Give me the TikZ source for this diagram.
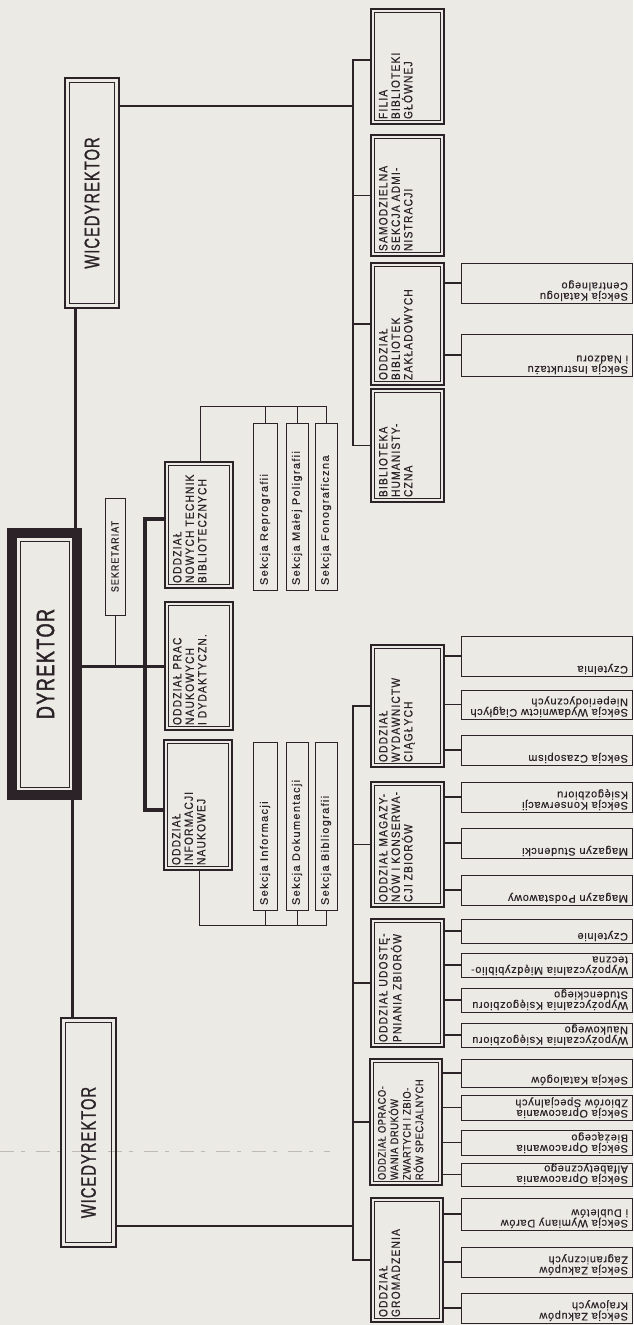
\documentclass[tikz,border=0pt]{standalone}
\usepackage{fontspec}
\setmainfont{Liberation Sans}
\newfontfamily\DeptFont[FakeStretch=0.85,LetterSpace=10,FakeBold=0.5]{Liberation Sans}
\newfontfamily\OprFont[FakeStretch=0.85,LetterSpace=5,FakeBold=0.5]{Liberation Sans}
\newfontfamily\BigFont[FakeStretch=0.72,LetterSpace=6,FakeBold=1.6]{Liberation Sans}
\newfontfamily\ViceFont[FakeStretch=0.7,LetterSpace=5,FakeBold=1]{Liberation Sans}
\newfontfamily\SecFont[LetterSpace=6,FakeBold=0.3]{Liberation Sans}
\newfontfamily\ColFont[LetterSpace=12,FakeBold=0.3]{Liberation Sans}
\definecolor{paper}{RGB}{236,234,229}
\definecolor{ink}{RGB}{43,35,40}
\definecolor{faintc}{RGB}{190,187,183}
\tikzset{
  every node/.style={outer sep=0pt},
  dept/.style={draw=ink, line width=1.5pt},
  innerln/.style={draw=ink, line width=0.6pt},
  depttext/.style={rotate=90, anchor=north west, align=left, inner sep=0pt, text=ink,
    font=\DeptFont\fontsize{12}{12.5}\selectfont},
  secbox/.style={draw=ink, line width=1pt},
  sectext/.style={rotate=180, anchor=north west, align=left, inner sep=0pt, text=ink,
    font=\SecFont\fontsize{11}{10.5}\selectfont},
  coltext/.style={rotate=90, anchor=west, inner sep=0pt, text=ink,
    font=\ColFont\fontsize{11}{12}\selectfont},
  conn/.style={draw=ink, line width=1.1pt},
  mainln/.style={draw=ink, line width=3pt},
  heavy/.style={draw=ink, line width=4pt},
  midln/.style={draw=ink, line width=1.5pt},
  thinc/.style={draw=ink, line width=1pt},
  vice/.style={draw=ink, line width=1.5pt},
  vicetext/.style={rotate=90, inner sep=0pt, text=ink, font=\ViceFont\fontsize{21}{21}\selectfont},
}
% [text options], name, x1, y1, x2, y2, text
\newcommand{\DeptBox}[7][]{%
  \node[dept, minimum width={(#5)-(#3)}, minimum height={(#6)-(#4)}] (#2) at ({((#3)+(#5))/2},{((#4)+(#6))/2}) {};
  \draw[innerln] ([shift={(3.5pt,-3.5pt)}]#2.north west) rectangle ([shift={(-3.5pt,3.5pt)}]#2.south east);
  \node[depttext,#1] (#2-t) at ([xshift=8pt,yshift=5pt]#2.south west) {#7};
}
% name, dept, y1, y2, text
\newcommand{\SecH}[5]{%
  \node[secbox, minimum width=171, minimum height={(#4)-(#3)}] (#1) at (546.5,{((#3)+(#4))/2}) {};
  \node[sectext] (#1-t) at ([xshift=-4pt,yshift=2pt]#1.south east) {#5};
  \draw[conn] (#2.east |- #1.west) -- (#1.west);
}
% name, x1, y1, x2, y2, text
\newcommand{\SecV}[6]{%
  \node[secbox, minimum width={(#4)-(#2)}, minimum height={(#5)-(#3)}] (#1) at ({((#2)+(#4))/2},{((#3)+(#5))/2}) {};
  \node[coltext] (#1-t) at ([yshift=5pt]#1.south) {#6};
}
\begin{document}
\begin{tikzpicture}[x=1pt,y=-1pt]
\useasboundingbox (0,0) rectangle (633,1325);
\fill[paper] (0,0) rectangle (633,1325);
% faint scan line
\draw[faintc, line width=0.8pt, dash pattern=on 14pt off 7pt on 4pt off 11pt] (0,1151) -- (330,1151);

% director
\node[draw=ink, line width=10pt, minimum width=65, minimum height=262] (dyr) at (44.5,664) {};
\draw[innerln] ([shift={(8pt,-8pt)}]dyr.north west) rectangle ([shift={(-8pt,8pt)}]dyr.south east);
\node[rotate=90, inner sep=0pt, text=ink, font=\BigFont\fontsize{25}{25}\selectfont] (dyr-t) at ([xshift=1pt]dyr.center) {DYREKTOR};

% vice directors
\node[vice, minimum width=54, minimum height=230] (wv1) at (92,193) {};
\draw[innerln] ([shift={(4.5pt,-4.5pt)}]wv1.north west) rectangle ([shift={(-4.5pt,4.5pt)}]wv1.south east);
\node[vicetext] (wv1-t) at ([yshift=-10pt]wv1.center) {WICEDYREKTOR};
\node[vice, minimum width=55, minimum height=229] (wv2) at (88.5,1132.5) {};
\draw[innerln] ([shift={(4.5pt,-4.5pt)}]wv2.north west) rectangle ([shift={(-4.5pt,4.5pt)}]wv2.south east);
\node[vicetext] (wv2-t) at ([yshift=-20pt]wv2.center) {WICEDYREKTOR};

% secretariat
\node[draw=ink, line width=0.8pt, minimum width=20, minimum height=117] (sek) at (115,556.5) {};
\node[rotate=90, inner sep=0pt, text=ink, font=\DeptFont\fontsize{10.5}{12}\selectfont] (sek-t) at (sek.center) {SEKRETARIAT};

% column 2
\DeptBox{dn}{165}{462}{233}{588}{ODDZIAŁ\\NOWYCH TECHNIK\\BIBLIOTECZNYCH}
\DeptBox{dp}{165}{602}{233}{730}{ODDZIAŁ PRAC\\NAUKOWYCH\\I DYDAKTYCZN.}
\DeptBox{di}{164}{740}{232}{870}{ODDZIAŁ\\INFORMACJI\\NAUKOWEJ}

% column 3
\SecV{r1}{253}{423}{277}{590}{Sekcja Reprografii}
\SecV{r2}{286}{423}{308}{590}{Sekcja Małej Poligrafii}
\SecV{r3}{315}{423}{337}{590}{Sekcja Fonograficzna}
\SecV{i1}{253}{742}{277}{910}{Sekcja Informacji}
\SecV{i2}{286}{742}{308}{910}{Sekcja Dokumentacji}
\SecV{i3}{315}{742}{337}{910}{Sekcja Bibliografii}

% right top group
\DeptBox{fil}{371}{9}{444}{124}{FILIA\\BIBLIOTEKI\\GŁÓWNEJ}
\DeptBox{sam}{371}{135}{444}{256}{SAMODZIELNA\\SEKCJA ADMI-\\NISTRACJI}
\DeptBox{zak}{371}{263}{444}{385}{ODDZIAŁ\\BIBLIOTEK\\ZAKŁADOWYCH}
\DeptBox{hum}{371}{389}{444}{502}{BIBLIOTEKA\\HUMANISTY-\\CZNA}

% bottom group
\DeptBox{wyd}{371}{645}{444}{767}{ODDZIAŁ\\WYDAWNICTW\\CIĄGŁYCH}
\DeptBox{mag}{371}{782}{444}{907}{ODDZIAŁ MAGAZY-\\NÓW I KONSERWA-\\CJI ZBIORÓW}
\DeptBox{udo}{371}{919}{444}{1047}{ODDZIAŁ UDOSTĘ-\\PNIANIA ZBIORÓW}
\DeptBox[font=\OprFont\fontsize{11}{12.5}\selectfont]{opr}{370}{1059}{442}{1185}{ODDZIAŁ OPRACO-\\WANIA DRUKÓW\\ZWARTYCH I ZBIO-\\RÓW SPECJALNYCH}
\DeptBox{gro}{371}{1198}{443}{1322}{ODDZIAŁ\\GROMADZENIA}

% sections (right column)
\SecH{sz1}{zak}{263}{303}{Sekcja Katalogu\\Centralnego}
\SecH{sz2}{zak}{334}{376}{Sekcja Instruktażu\\i Nadzoru}
\SecH{sw1}{wyd}{636}{676}{Czytelnia}
\SecH{sw2}{wyd}{690}{719}{Sekcja Wydawnictw Ciągłych\\Nieperiodycznych}
\SecH{sw3}{wyd}{735}{765}{Sekcja Czasopism}
\SecH{sm1}{mag}{782}{812}{Sekcja Konserwacji\\Księgozbioru}
\SecH{sm2}{mag}{828}{858}{Magazyn Studencki}
\SecH{sm3}{mag}{875}{905}{Magazyn Podstawowy}
\SecH{su1}{udo}{919}{943}{Czytelnie}
\SecH{su2}{udo}{953}{977}{Wypożyczalnia Międzybiblio-\\teczna}
\SecH{su3}{udo}{988}{1012}{Wypożyczalnia Księgozbioru\\Studenckiego}
\SecH{su4}{udo}{1023}{1047}{Wypożyczalnia Księgozbioru\\Naukowego}
\SecH{so1}{opr}{1059}{1087}{Sekcja Katalogów}
\SecH{so2}{opr}{1095}{1120}{Sekcja Opracowania\\Zbiorów Specjalnych}
\SecH{so3}{opr}{1130}{1155}{Sekcja Opracowania\\Bieżącego}
\SecH{so4}{opr}{1163}{1186}{Sekcja Opracowania\\Alfabetycznego}
\SecH{sg1}{gro}{1198}{1230}{Sekcja Wymiany Darów\\i Dubletów}
\SecH{sg2}{gro}{1247}{1277}{Sekcja Zakupów\\Zagranicznych}
\SecH{sg3}{gro}{1293}{1323}{Sekcja Zakupów\\Krajowych}

% main connectors
\coordinate (vxa) at (75,0);
\coordinate (vxb) at (72,0);
\draw[mainln] (wv1.south -| vxa) -- (dyr.north -| vxa);
\draw[mainln] (dyr.south -| vxb) -- (wv2.north -| vxb);
\draw[mainln] (dyr.east |- dp.west) -- (dp.west);
\coordinate (ja) at (145,519);
\coordinate (jb) at (145,810);
\draw[heavy] (dn.west |- ja) -- (ja) -- (jb) -- (di.west |- jb);
\draw[thinc, line width=0.7pt] (sek.south) -- (sek.south |- dp.west);

% column 3 connectors
\coordinate (nt) at (200,406);
\draw[thinc] (dn.north -| nt) -- (nt) -- (nt -| r3.north) -- (r3.north);
\draw[thinc] (nt -| r1.north) -- (r1.north);
\draw[thinc] (nt -| r2.north) -- (r2.north);
\coordinate (it) at (199,925);
\draw[thinc] (di.south -| it) -- (it) -- (it -| i3.south) -- (i3.south);
\draw[thinc] (it -| i1.south) -- (i1.south);
\draw[thinc] (it -| i2.south) -- (i2.south);

% right top trunk
\coordinate (rt) at (353,60);
\draw[conn] (fil.west |- rt) -- (rt) |- (hum.west);
\draw[conn] (rt |- sam.west) -- (sam.west);
\draw[conn] (rt |- zak.west) -- (zak.west);
\coordinate (wj1) at (353,106);
\draw[midln] (wv1.east |- wj1) -- (wj1);

% bottom trunk
\coordinate (bt) at (353,0);
\draw[conn] (wyd.west) -- (wyd.west -| bt) -- (gro.west -| bt) -- (gro.west);
\draw[conn] (mag.west -| bt) -- (mag.west);
\draw[conn] (udo.west -| bt) -- (udo.west);
\draw[conn] (opr.west -| bt) -- (opr.west);
\coordinate (wj2) at (353,1226);
\draw[midln] (wv2.east |- wj2) -- (wj2);
\end{tikzpicture}
\end{document}
